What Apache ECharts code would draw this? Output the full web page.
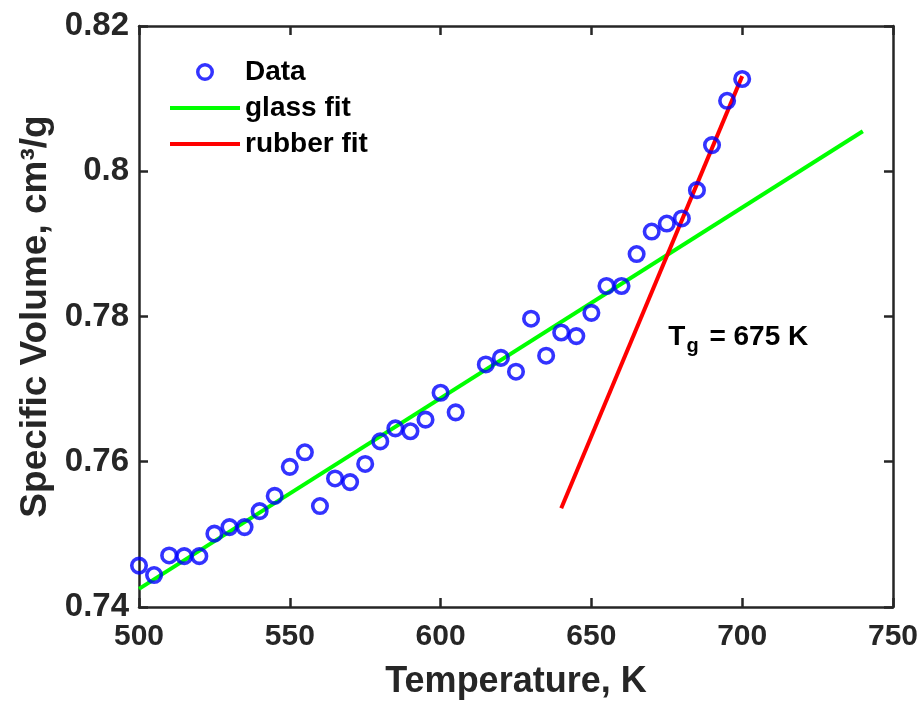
<!DOCTYPE html>
<html>
<head>
<meta charset="utf-8">
<script src="https://cdn.jsdelivr.net/npm/echarts@6/dist/echarts.min.js"></script>
<style>html,body{margin:0;padding:0;background:#fff}#c{width:921px;height:706px}</style>
</head>
<body>
<div id="c"></div>
<script>
const temperature = [500,505,510,515,520,525,530,535,540,545,550,555,560,565,570,575,580,585,590,595,600,605,615,620,625,630,635,640,645,650,655,660,665,670,675,680,685,690,695,700];
const specificVolume = [0.7457,0.7444,0.7471,0.7470,0.7470,0.7501,0.7510,0.7510,0.7532,0.7553,0.7593,0.7613,0.7539,0.7577,0.7572,0.7597,0.7628,0.7646,0.7642,0.7658,0.7695,0.7668,0.7734,0.7743,0.7724,0.7797,0.7746,0.7778,0.7773,0.7805,0.7842,0.7842,0.7886,0.7917,0.7928,0.7935,0.7974,0.8036,0.8097,0.8127];
const glassFitT = [500, 740];
const glassFitV = [0.7425, 0.8055];
const rubberFitT = [640, 700];
const rubberFitV = [0.7536, 0.8131];
const xTicks = [500, 550, 600, 650, 700, 750];
const yTicks = [0.74, 0.76, 0.78, 0.8, 0.82];
const tgLabel = { text: '675 K', T: 675.5, V: 0.7771 };

const zip = (a, b) => a.map((v, i) => [v, b[i]]);
const FONT = 'Liberation Sans, Arial, sans-serif';
const AX = '#262626';
const RING = 'path://M0,8.5 A8.5,8.5 0 1,0 17,8.5 A8.5,8.5 0 1,0 0,8.5 Z M3.3,8.5 A5.2,5.2 0 1,1 13.7,8.5 A5.2,5.2 0 1,1 3.3,8.5 Z';

const chart = echarts.init(document.getElementById('c'), null, { renderer: 'canvas' });
const baseX = {
  type: 'value', min: xTicks[0], max: xTicks[xTicks.length - 1], interval: 50,
  axisLine: { show: true, onZero: false, lineStyle: { color: AX, width: 2.5 } },
  axisTick: { show: true, inside: true, length: 9, lineStyle: { color: AX, width: 2.5 } },
  splitLine: { show: false }
};
const baseY = {
  type: 'value', min: yTicks[0], max: yTicks[yTicks.length - 1], interval: 0.02,
  axisLine: { show: true, onZero: false, lineStyle: { color: AX, width: 2.5 } },
  axisTick: { show: true, inside: true, length: 9, lineStyle: { color: AX, width: 2.5 } },
  splitLine: { show: false }
};
chart.setOption({
  animation: false,
  backgroundColor: '#fff',
  grid: { left: 139, right: 28, top: 26, bottom: 99 },
  xAxis: [
    Object.assign({}, baseX, {
      position: 'bottom',
      name: 'Temperature, K', nameLocation: 'middle', nameGap: 57,
      nameTextStyle: { fontFamily: FONT, fontWeight: 'bold', fontSize: 36, color: AX },
      axisLabel: { margin: 15, fontFamily: FONT, fontWeight: 'bold', fontSize: 30, color: AX }
    }),
    Object.assign({}, baseX, { position: 'top', axisLabel: { show: false } })
  ],
  yAxis: [
    Object.assign({}, baseY, {
      position: 'left',
      name: 'Specific Volume, cm³/g', nameLocation: 'middle', nameGap: 80,
      nameTextStyle: { fontFamily: FONT, fontWeight: 'bold', fontSize: 37, color: AX },
      axisLabel: { margin: 10, fontFamily: FONT, fontWeight: 'bold', fontSize: 33, color: AX,
        formatter: v => String(parseFloat(v.toFixed(2))) }
    }),
    Object.assign({}, baseY, { position: 'right', axisLabel: { show: false } })
  ],
  legend: {
    orient: 'vertical', left: 163, top: 53, itemWidth: 70, itemHeight: 18, itemGap: 8,
    textStyle: { fontFamily: FONT, fontWeight: 'bold', fontSize: 28, color: '#000' },
    data: [
      { name: 'Data', icon: RING, itemStyle: { color: '#0000ff', borderWidth: 0 } },
      { name: 'glass fit', itemStyle: { opacity: 0 }, lineStyle: { width: 4, color: '#00ff00' } },
      { name: 'rubber fit', itemStyle: { opacity: 0 }, lineStyle: { width: 4, color: '#ff0000' } }
    ]
  },
  series: [
    {
      name: 'Data', type: 'scatter', data: zip(temperature, specificVolume),
      symbol: 'circle', symbolSize: 14.5,
      itemStyle: { color: 'rgba(0,0,0,0)', borderColor: '#0000ff', borderWidth: 3.6 }, z: 5
    },
    {
      name: 'glass fit', type: 'line', data: zip(glassFitT, glassFitV),
      symbol: 'none', lineStyle: { color: '#00ff00', width: 4 }, itemStyle: { color: '#00ff00' }, z: 3
    },
    {
      name: 'rubber fit', type: 'line', data: zip(rubberFitT, rubberFitV),
      symbol: 'none', lineStyle: { color: '#ff0000', width: 4 }, itemStyle: { color: '#ff0000' }, z: 4,
      markPoint: {
        symbol: 'circle', symbolSize: 0,
        data: [{ coord: [tgLabel.T, tgLabel.V] }],
        label: {
          show: true, position: 'right', distance: 0,
          formatter: '{t|T}{s|g}{t| = ' + tgLabel.text + '}',
          rich: {
            t: { fontFamily: FONT, fontWeight: 'bold', fontSize: 28, color: '#000' },
            s: { fontFamily: FONT, fontWeight: 'bold', fontSize: 20, color: '#000', padding: [18, 3, 0, 1] }
          }
        }
      }
    }
  ]
});
</script>
</body>
</html>
